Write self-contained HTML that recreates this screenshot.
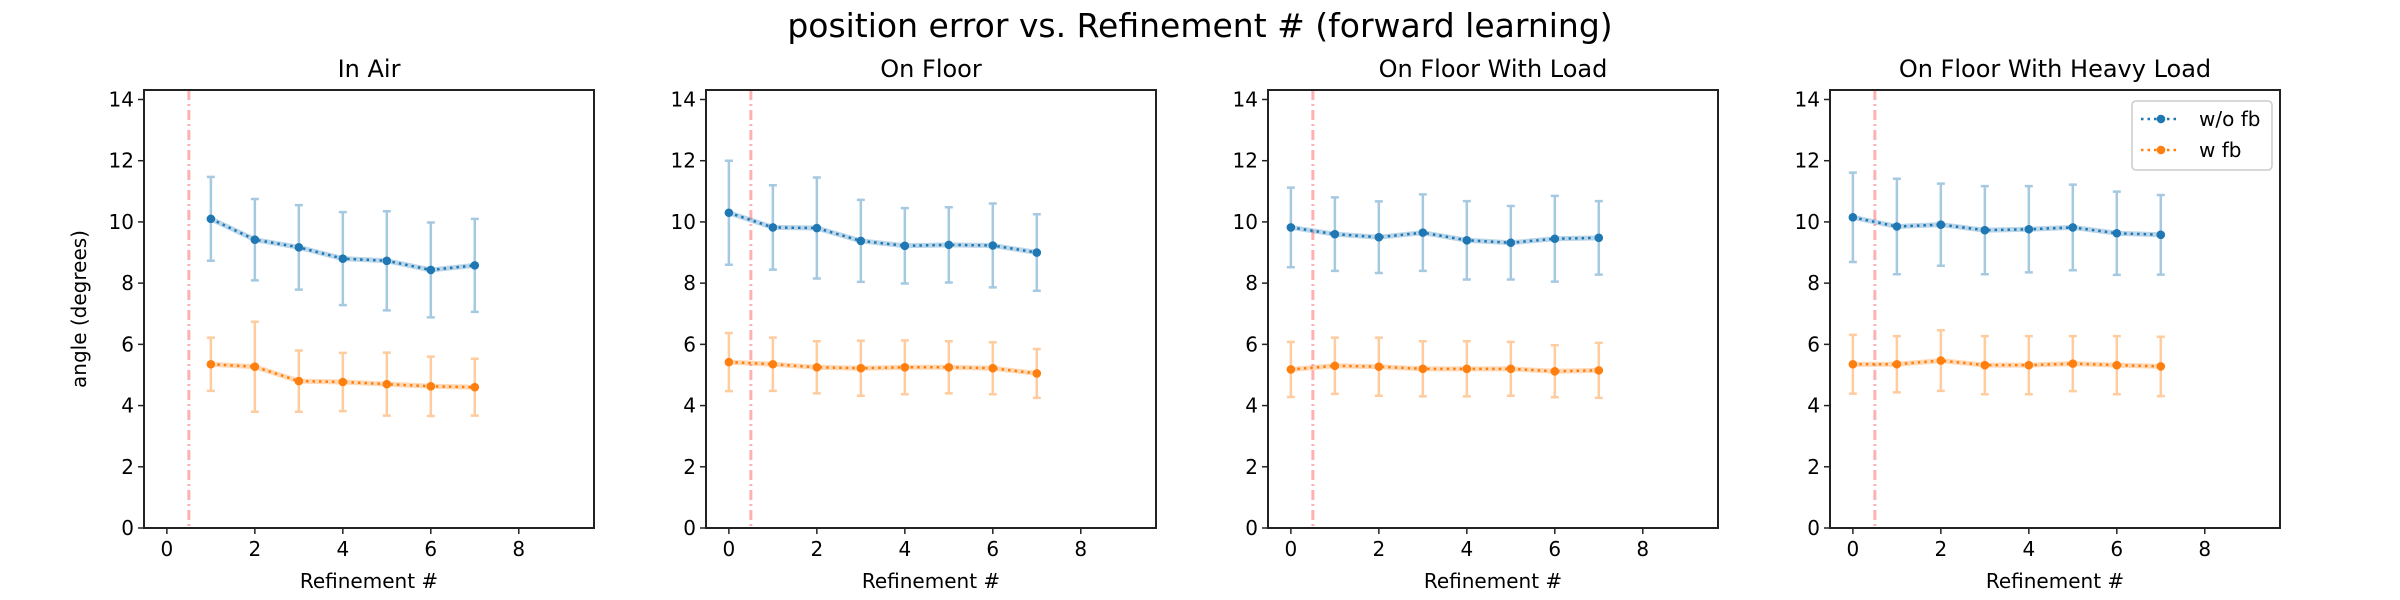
<!DOCTYPE html>
<html><head><meta charset="utf-8"><style>
html,body{margin:0;padding:0;background:#fff;}
svg{display:block;font-family:"DejaVu Sans","Liberation Sans",sans-serif;}
</style></head><body>
<svg id="fig" width="2400" height="600" viewBox="0 0 2400 600" xmlns="http://www.w3.org/2000/svg">
<rect width="2400" height="600" fill="#fff"/>
<text x="1200" y="37" font-size="33" text-anchor="middle" fill="#000">position error vs. Refinement # (forward learning)</text>
</svg>
<script>
const panelTitles = ["In Air", "On Floor", "On Floor With Load", "On Floor With Heavy Load"];
const xStarts = [1, 0, 0, 0];
const woMean = [
  [10.1, 9.42, 9.17, 8.8, 8.73, 8.43, 8.58],
  [10.3, 9.82, 9.8, 9.38, 9.22, 9.25, 9.23, 9.0],
  [9.82, 9.6, 9.5, 9.65, 9.4, 9.32, 9.45, 9.48],
  [10.15, 9.85, 9.91, 9.73, 9.76, 9.82, 9.63, 9.58]
];
const woErr = [
  [1.37, 1.33, 1.38, 1.52, 1.62, 1.55, 1.52],
  [1.7, 1.38, 1.65, 1.34, 1.23, 1.23, 1.37, 1.25],
  [1.3, 1.2, 1.17, 1.25, 1.28, 1.2, 1.4, 1.2],
  [1.46, 1.56, 1.34, 1.44, 1.41, 1.4, 1.36, 1.3]
];
const wMean = [
  [5.35, 5.27, 4.8, 4.77, 4.7, 4.63, 4.6],
  [5.42, 5.35, 5.25, 5.22, 5.25, 5.25, 5.22, 5.05],
  [5.18, 5.3, 5.27, 5.2, 5.2, 5.2, 5.12, 5.15],
  [5.35, 5.35, 5.47, 5.32, 5.32, 5.37, 5.32, 5.28]
];
const wErr = [
  [0.87, 1.47, 1.0, 0.95, 1.03, 0.97, 0.93],
  [0.95, 0.87, 0.85, 0.9, 0.88, 0.85, 0.85, 0.8],
  [0.9, 0.92, 0.95, 0.9, 0.9, 0.88, 0.85, 0.9],
  [0.96, 0.92, 0.99, 0.95, 0.95, 0.9, 0.95, 0.97]
];
const xTicks = [0, 2, 4, 6, 8];
const yTicks = [0, 2, 4, 6, 8, 10, 12, 14];
const vlineX = 0.5;
const XMIN = -0.52, XMAX = 9.71, YMIN = 0, YMAX = 14.31;

const svg = document.getElementById('fig');
const NS = 'http://www.w3.org/2000/svg';
function mk(tag, attrs, parent) {
  const e = document.createElementNS(NS, tag);
  for (const k in attrs) e.setAttribute(k, attrs[k]);
  (parent || svg).appendChild(e);
  return e;
}
const PL = [144, 706, 1268, 1830], PW = 450, PT = 90, PB = 528;
const BLUE = '#1f77b4', ORANGE = '#ff7f0e';

panelTitles.forEach((title, p) => {
  const L = PL[p];
  const sx = v => L + (v - XMIN) / (XMAX - XMIN) * PW;
  const sy = v => PB - (v - YMIN) / (YMAX - YMIN) * (PB - PT);
  const g = mk('g', {});
  
  

  const t = mk('text', {x: L + PW / 2, y: 77, 'font-size': 24, 'text-anchor': 'middle', fill: '#000'}, g);
  t.textContent = title;
  
  

  const vl = mk('line', {x1: sx(vlineX), x2: sx(vlineX), y1: PT, y2: PB, stroke: '#ffb0b0', 'stroke-width': 3, 'stroke-dasharray': '10 4 2 4'}, g);
  
  

  [[woMean, woErr, BLUE, 'series-wo-fb'], [wMean, wErr, ORANGE, 'series-w-fb']].forEach(([M, E, col, nm]) => {
    const sg = mk('g', {}, g);
    
    
    const m = M[p], er = E[p];
    const pts = m.map((v, i) => sx(xStarts[p] + i) + ',' + sy(v)).join(' ');
    m.forEach((v, i) => {
      const x = sx(xStarts[p] + i);
      const eb = mk('path', {d: `M${x},${sy(v - er[i])}V${sy(v + er[i])}M${x - 4},${sy(v - er[i])}H${x + 4}M${x - 4},${sy(v + er[i])}H${x + 4}`, stroke: col, 'stroke-opacity': 0.4, 'stroke-width': 2.5, fill: 'none'}, sg);
      
      
    });
    mk('polyline', {points: pts, fill: 'none', stroke: col, 'stroke-opacity': 0.3, 'stroke-width': 5}, sg);
    const ln = mk('polyline', {points: pts, fill: 'none', stroke: col, 'stroke-width': 2.5, 'stroke-dasharray': '2.5 4'}, sg);
    
    
    m.forEach((v, i) => {
      const c = mk('circle', {cx: sx(xStarts[p] + i), cy: sy(v), r: 4.3, fill: col}, sg);
      
      
    });
  });

  const fr = mk('rect', {x: L, y: PT, width: PW, height: PB - PT, fill: 'none', stroke: '#222', 'stroke-width': 2}, g);
  
  

  xTicks.forEach(v => {
    const x = sx(v);
    mk('line', {x1: x, x2: x, y1: PB, y2: PB + 6, stroke: '#222', 'stroke-width': 1.5}, g);
    const tl = mk('text', {x: x, y: PB + 28, 'font-size': 20, 'text-anchor': 'middle', fill: '#000'}, g);
    tl.textContent = v;
    
    
  });
  yTicks.forEach(v => {
    const y = sy(v);
    mk('line', {x1: L - 6, x2: L, y1: y, y2: y, stroke: '#222', 'stroke-width': 1.5}, g);
    const tl = mk('text', {x: L - 10, y: y + 7, 'font-size': 20, 'text-anchor': 'end', fill: '#000'}, g);
    tl.textContent = v;
    
    
  });
  const xl = mk('text', {x: L + PW / 2, y: 588, 'font-size': 20, 'text-anchor': 'middle', fill: '#000'}, g);
  xl.textContent = 'Refinement #';
  
  
  if (p === 0) {
    const yl = mk('text', {x: 0, y: 0, 'font-size': 20, 'text-anchor': 'middle', fill: '#000', transform: `translate(${L - 58},${(PT + PB) / 2}) rotate(-90)`}, g);
    yl.textContent = 'angle (degrees)';
    
    
  }
});

const lg = mk('g', {});


mk('rect', {x: 2132, y: 101, width: 140, height: 69, rx: 4, fill: '#fff', 'fill-opacity': 0.8, stroke: '#ccc', 'stroke-width': 1.5}, lg);
[['w/o fb', BLUE, 119], ['w fb', ORANGE, 150]].forEach(([lab, col, y]) => {
  const e = mk('g', {}, lg);
  
  
  mk('line', {x1: 2141, x2: 2177, y1: y, y2: y, stroke: col, 'stroke-width': 2.5, 'stroke-dasharray': '2.5 4'}, e);
  mk('circle', {cx: 2161, cy: y, r: 4.3, fill: col}, e);
  const t = mk('text', {x: 2199, y: y + 7, 'font-size': 20, fill: '#000'}, e);
  t.textContent = lab;
});
</script>
</body></html>
